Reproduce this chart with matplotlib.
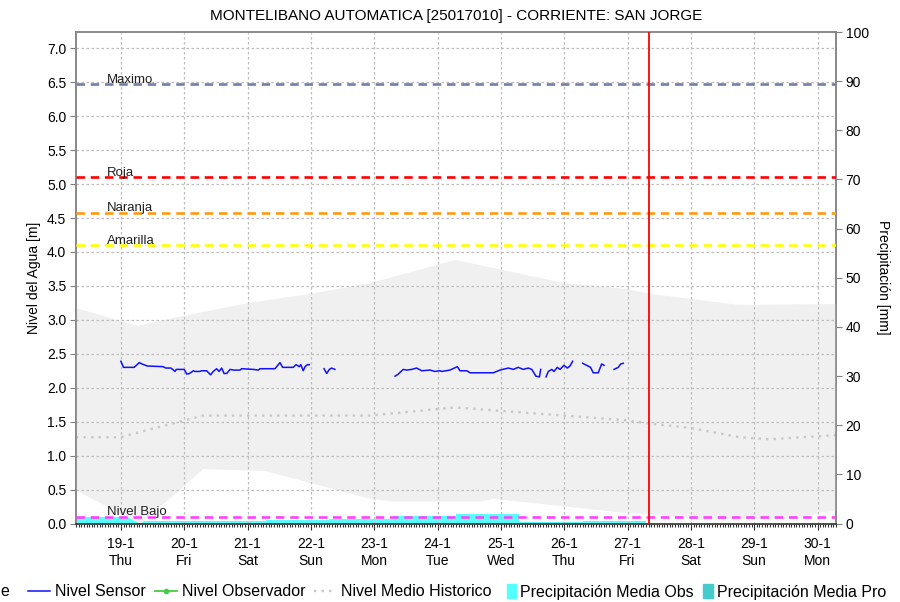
import numpy as np
import matplotlib
matplotlib.use('Agg')
import matplotlib.pyplot as plt
import matplotlib.dates as mdates
from matplotlib.lines import Line2D
from matplotlib.patches import Patch
from datetime import datetime, timedelta

plt.rcParams['font.family'] = ['Liberation Sans', 'DejaVu Sans']

title = 'MONTELIBANO AUTOMATICA [25017010] - CORRIENTE: SAN JORGE'
t0 = datetime(2023, 1, 18, 7, 0)
t_end = datetime(2023, 1, 30, 7, 0)
t_now = datetime(2023, 1, 27, 8, 0)

# sensor level (hours after t0, metres); None = gap
sensor_h = [17, 18, 22, 24, 25, 27, 33, 34, 36, 37.5, 38, 41, 42, 43, 44.5, 45, 47, 47.6,
            49.5, 51, 52, 53.3, 54.2, 55.2, 56.1, 57.1, 58.4, 59.6, 62.1, 62.8, 67.2, 69.1,
            69.7, 75.4, 77.3, 78.3, 82.3, 83.4, 84.6, 85.2, 86.1, 86.8, 87.7, 88.4,
            90,
            94.0, 95.0, 96.0, 96.9, 98.1,
            110,
            120.9, 122.1, 124.0, 125.3, 127.2, 129.1, 131.0, 134.2, 136.0, 137.9, 138.6,
            141.7, 144.5, 145.5, 148.1, 149.3, 158.1, 160.7, 163.8, 165.7, 167.6, 169.5,
            171.4, 172.7, 174.3, 175.6, 176.1,
            177,
            178.1, 179.0, 180.3, 181.1, 182.4, 183.4, 184.9, 186.2, 187.2, 188.2,
            190,
            192.0, 193.5, 195.0, 196.0, 197.9, 199.2, 200.1,
            202,
            203.9, 205.5, 206.4, 207.4]
sensor_m = [2.39, 2.30, 2.30, 2.37, 2.35, 2.32, 2.31, 2.29, 2.29, 2.24, 2.27, 2.27, 2.20, 2.21,
            2.25, 2.24, 2.24, 2.25, 2.25, 2.19, 2.24, 2.28, 2.24, 2.29, 2.21, 2.21, 2.27, 2.26,
            2.26, 2.28, 2.27, 2.26, 2.28, 2.28, 2.37, 2.30, 2.30, 2.34, 2.31, 2.34, 2.25, 2.31,
            2.34, 2.34,
            None,
            2.28, 2.21, 2.27, 2.29, 2.27,
            None,
            2.17, 2.20, 2.27, 2.26, 2.27, 2.29, 2.25, 2.26, 2.24, 2.25, 2.24,
            2.26, 2.31, 2.25, 2.25, 2.22, 2.22, 2.26, 2.29, 2.27, 2.30, 2.27,
            2.29, 2.27, 2.17, 2.16, 2.27,
            None,
            2.16, 2.24, 2.27, 2.24, 2.30, 2.27, 2.33, 2.29, 2.32, 2.39,
            None,
            2.36, 2.33, 2.30, 2.22, 2.22, 2.35, 2.33,
            None,
            2.27, 2.30, 2.35, 2.36]

# historic envelope (max / min) and mean
env_top_h = [0, 23.1, 40.9, 65.9, 88.7, 111.4, 143.6, 184.6, 208.8, 217.5, 250.5, 258, 288]
env_top_m = [3.18, 2.92, 3.07, 3.26, 3.39, 3.55, 3.89, 3.55, 3.46, 3.39, 3.23, 3.23, 3.24]
env_bot_h = [0, 24.3, 48.1, 71.6, 111.4, 120.1, 153.1, 158, 208.8, 216.4, 236.5, 274, 282, 288]
env_bot_m = [0.49, 0.0, 0.81, 0.78, 0.37, 0.33, 0.33, 0.37, 0.16, 0.15, 0.06, 0.08, 0.17, 0.19]
mean_h = [0, 16.7, 48.1, 77.3, 111.4, 143.6, 184.6, 208.8, 217.5, 232.7, 251.6, 263, 274.4, 288]
mean_m = [1.27, 1.27, 1.59, 1.59, 1.59, 1.71, 1.59, 1.52, 1.47, 1.41, 1.27, 1.24, 1.27, 1.30]

# daily precipitation observed (mm), days from t0
precip_day = [0, 1, 2, 3, 4, 5, 6, 7, 8]
precip_obs = [1.4, 0.5, 0.5, 0.7, 0.9, 1.6, 2.0, 0.3, 0.5]

thresholds = ['Maximo', 'Roja', 'Naranja', 'Amarilla', 'Nivel Bajo']
threshold_m = [6.47, 5.10, 4.58, 4.10, 0.10]
threshold_col = ['#7080A8', '#FF0000', '#FF9A10', '#FFFF00', '#FF40FF']


def to_dates(hours):
    return [t0 + timedelta(hours=float(h)) for h in hours]


fig = plt.figure(figsize=(9, 6.02), dpi=100)
ax = fig.add_axes([76 / 900, 1 - 523.5 / 602, 760 / 900, 491.5 / 602])
ax2 = ax.twinx()
ax2.set_zorder(ax.get_zorder() - 1)
ax.patch.set_visible(False)
ax2.patch.set_visible(True)
ax2.patch.set_facecolor('white')

# precipitation bars on right axis
ax2.bar(to_dates([d * 24 for d in precip_day]), precip_obs, width=1.0, align='edge',
        color='#55FFFF', edgecolor='none')
ax2.set_ylim(0, 100)
ax2.set_yticks(range(0, 101, 10))

# historic envelope
grid_h = np.union1d(env_top_h, env_bot_h)
top = np.interp(grid_h, env_top_h, env_top_m)
bot = np.interp(grid_h, env_bot_h, env_bot_m)
ax.fill_between(to_dates(grid_h), bot, top, color='#F0F0F0', lw=0, zorder=1)
ax.plot(to_dates(mean_h), mean_m, color='#C8C8C8', lw=1.7, ls=(0, (1.0, 2.2)), zorder=2)

# sensor
sm = np.array([np.nan if v is None else v for v in sensor_m])
ax.plot(to_dates(sensor_h), sm, color='#1010FF', lw=1.1, zorder=3)

# thresholds
for name, val, col in zip(thresholds, threshold_m, threshold_col):
    ax.axhline(val, color=col, lw=1.9, ls=(0, (3.2, 2.2)), zorder=4)
    ax.text(t0 + timedelta(hours=11.7), val - 0.02, name, fontsize=9.5, va='bottom',
            ha='left', color='#202020', zorder=5)

ax.axvline(t_now, color='#FF0000', lw=1.3, zorder=6)

ax.set_xlim(t0, t_end)
ax.set_ylim(0, 7.24)
ax.set_yticks(np.arange(0, 7.01, 0.5))
ax.yaxis.set_major_formatter(plt.FuncFormatter(lambda v, p: f'{v:.1f}'))
ax.xaxis.set_major_locator(mdates.DayLocator())
ax.xaxis.set_minor_locator(mdates.HourLocator())
ax.xaxis.set_major_formatter(plt.FuncFormatter(
    lambda v, p: f'{mdates.num2date(v).day}-{mdates.num2date(v).month}\n{mdates.num2date(v).strftime("%a")}'))
ax.grid(True, which='major', color='#BDBDBD', lw=0.9, ls=(0, (2, 2)))

ax.tick_params(axis='y', labelsize=10, length=4, color='#808080', pad=3)
ax.tick_params(axis='x', which='major', labelsize=10, length=4, color='#303030', pad=6)
ax.tick_params(axis='x', which='minor', length=2, color='#303030', width=0.8)
ax2.tick_params(axis='y', labelsize=10, length=4, color='#808080', pad=3)
for a in (ax, ax2):
    for s in a.spines.values():
        s.set_color('#888888')
        s.set_linewidth(1.2)
ax.spines['bottom'].set_color('#303030')
ax2.spines['bottom'].set_visible(False)

ax.set_ylabel('Nivel del Agua [m]', fontsize=10, labelpad=4)
ax2.set_ylabel('Precipitación [mm]', fontsize=10, rotation=270, labelpad=15)

fig.text(456 / 900, 1 - 16 / 602, title, ha='center', va='center', fontsize=11)

line_handles = [
    Line2D([], [], color='#1010FF', lw=1.1),
    Line2D([], [], color='#44CC44', lw=1.3, marker='o', markersize=3),
    Line2D([], [], color='#C8C8C8', lw=1.7, ls=(0, (1.0, 2.2))),
]
line_labels = ['Nivel Sensor', 'Nivel Observador', 'Nivel Medio Historico']
box_handles = [Patch(color='#55FFFF'), Patch(color='#44CCCC')]
box_labels = ['Precipitación Media Obs', 'Precipitación Media Pro']

leg1 = fig.legend(line_handles, line_labels, loc='center left',
                  bbox_to_anchor=(28 / 900, 1 - 592 / 602), ncol=3, frameon=False,
                  fontsize=11.5, handlelength=1.4, handletextpad=0.3,
                  columnspacing=0.55, borderaxespad=0, borderpad=0)
fig.legend(box_handles, box_labels, loc='center left',
           bbox_to_anchor=(507 / 900, 1 - 592 / 602), ncol=2, frameon=False,
           fontsize=11.5, handlelength=0.58, handleheight=0.95, handletextpad=0.25,
           columnspacing=0.6, borderaxespad=0, borderpad=0)
fig.text(0.5 / 900, 1 - 592 / 602, 'e', fontsize=11.5, ha='left', va='center')

fig.savefig('out.png', dpi=100)
